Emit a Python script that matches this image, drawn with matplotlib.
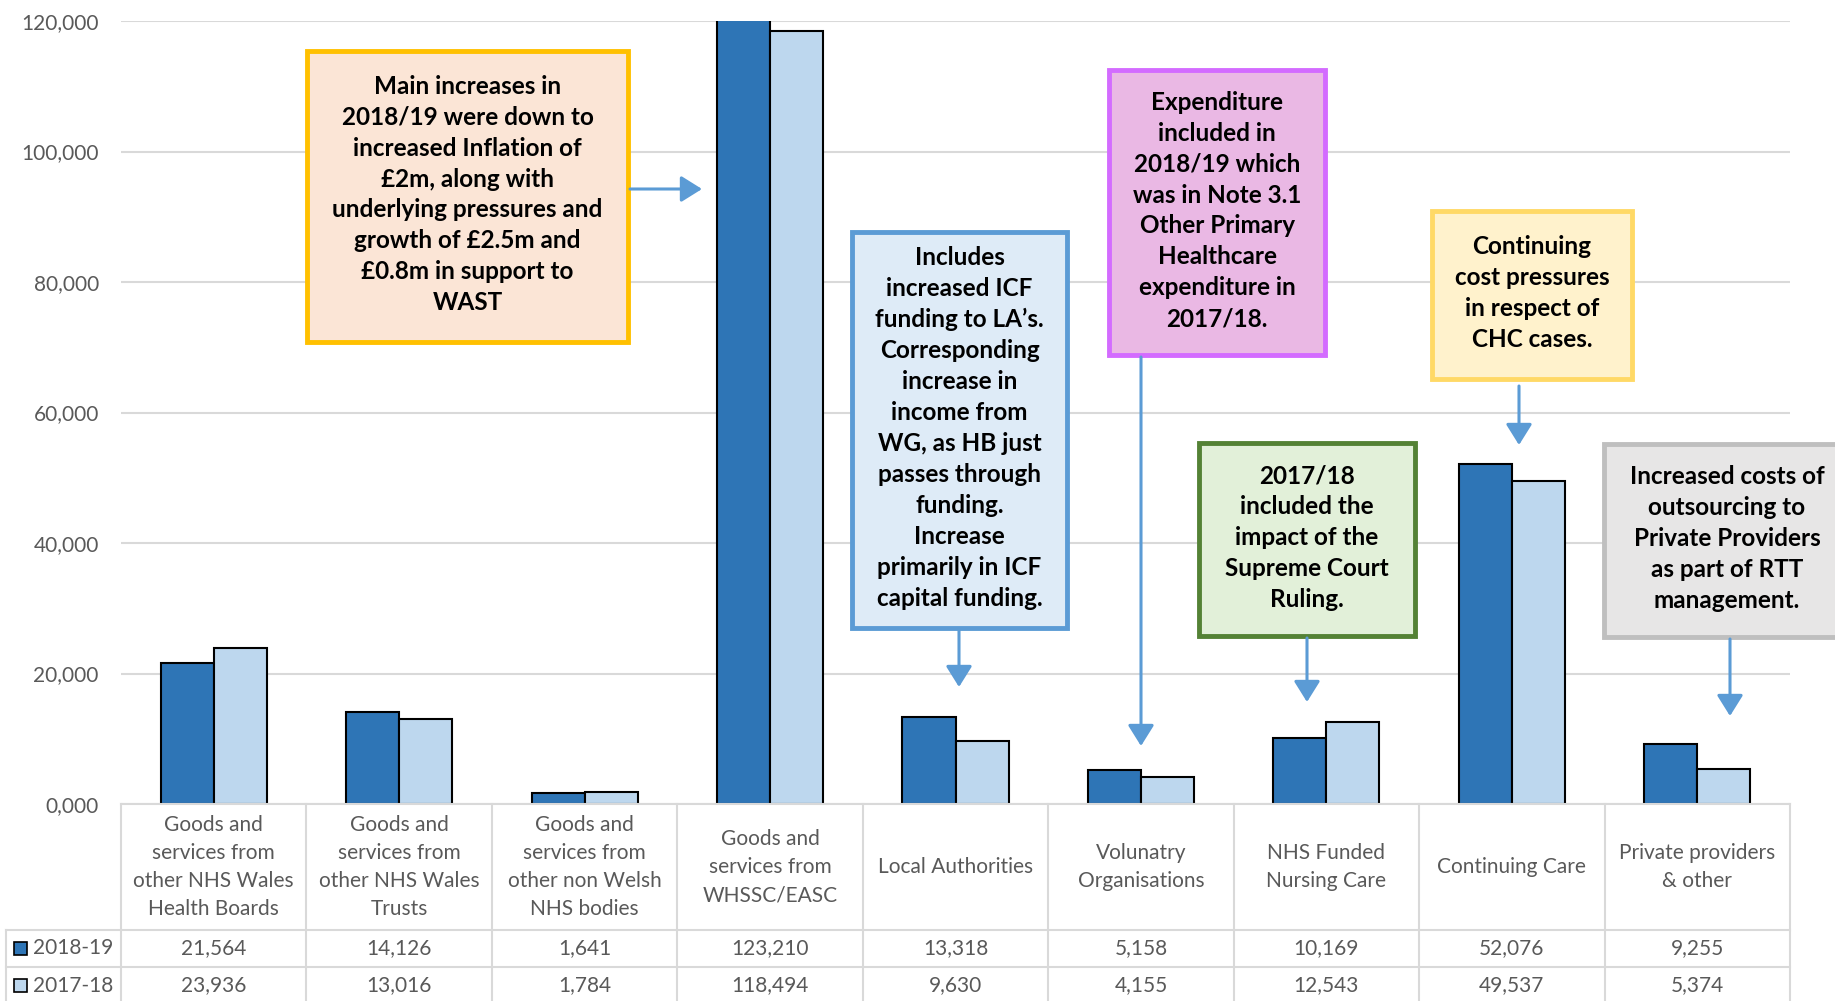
import matplotlib
matplotlib.use("Agg")
import matplotlib.pyplot as plt
from matplotlib.patches import Rectangle, FancyArrowPatch
from matplotlib.transforms import blended_transform_factory
import numpy as np

plt.rcParams["font.family"] = ["Lato", "DejaVu Sans"]

categories = [
    "Goods and\nservices from\nother NHS Wales\nHealth Boards",
    "Goods and\nservices from\nother NHS Wales\nTrusts",
    "Goods and\nservices from\nother non Welsh\nNHS bodies",
    "Goods and\nservices from\nWHSSC/EASC",
    "Local Authorities",
    "Volunatry\nOrganisations",
    "NHS Funded\nNursing Care",
    "Continuing Care",
    "Private providers\n& other",
]
series_names = ["2018-19", "2017-18"]
values_2018_19 = [21564, 14126, 1641, 123210, 13318, 5158, 10169, 52076, 9255]
values_2017_18 = [23936, 13016, 1784, 118494, 9630, 4155, 12543, 49537, 5374]
y_ticks = [0, 20000, 40000, 60000, 80000, 100000, 120000]

DARK = "#2E75B6"
LIGHT = "#BDD7EE"
GRID = "#D9D9D9"
TEXT = "#595959"
ARROW = "#5B9BD5"

W, H = 1835, 1001
fig = plt.figure(figsize=(W / 100, H / 100), dpi=100)


def fx(x):
    return x / W


def fy(y):
    return 1 - y / H


# plot area: left 121px, right 1790px, zero line 804px, top 21px
ax = fig.add_axes([fx(121), fy(804), fx(1790 - 121), (804 - 21) / H])
x = np.arange(len(categories))
bw = 0.286
ax.bar(x - bw / 2, values_2018_19, bw, color=DARK, edgecolor="black", linewidth=1.5, zorder=3)
ax.bar(x + bw / 2, values_2017_18, bw, color=LIGHT, edgecolor="black", linewidth=1.5, zorder=3)
ax.set_xlim(-0.5, len(categories) - 0.5)
ax.set_ylim(0, 120000)
ax.set_yticks(y_ticks)
ax.set_yticklabels([format(v, "05,") for v in y_ticks], color=TEXT, fontsize=15)
ax.tick_params(axis="y", length=0, pad=16)
ax.set_xticks([])
ax.grid(axis="y", color=GRID, linewidth=1.5, zorder=0)
for s in ax.spines.values():
    s.set_visible(False)

# data table underneath the bars
tr = blended_transform_factory(ax.transData, fig.transFigure)
top, hdr, r1, r2, bot = fy(804), fy(930), fy(967), fy(1004), fy(1010)
lkw = dict(color=GRID, linewidth=1.5, clip_on=False)
fig.add_artist(plt.Line2D([fx(121), fx(1790)], [top, top], **lkw))
fig.add_artist(plt.Line2D([fx(6), fx(1790)], [hdr, hdr], **lkw))
fig.add_artist(plt.Line2D([fx(6), fx(1790)], [r1, r1], **lkw))
fig.add_artist(plt.Line2D([fx(6), fx(6)], [hdr, bot], **lkw))
for b in np.arange(-0.5, len(categories)):
    fig.add_artist(plt.Line2D([b, b], [top, bot], transform=tr, **lkw))

for i, cat in enumerate(categories):
    fig.text(i, (top + hdr) / 2, cat, transform=tr, ha="center", va="center",
             fontsize=15, color=TEXT, linespacing=1.5)
    fig.text(i, (hdr + r1) / 2, f"{values_2018_19[i]:,}", transform=tr,
             ha="center", va="center", fontsize=15, color=TEXT)
    fig.text(i, (r1 + r2) / 2, f"{values_2017_18[i]:,}", transform=tr,
             ha="center", va="center", fontsize=15, color=TEXT)

for (name, col, yc) in zip(series_names, [DARK, LIGHT], [(hdr + r1) / 2, (r1 + r2) / 2]):
    fig.add_artist(Rectangle((fx(14), yc - 6.5 / H), 13 / W, 13 / H, facecolor=col,
                             edgecolor="black", linewidth=1.2, transform=fig.transFigure))
    fig.text(fx(33), yc, name, ha="left", va="center", fontsize=15, color=TEXT)

# callout boxes: (x0, y0, x1, y1) in px, fill, edge, text
callouts = [
    ((307, 51, 628, 342), "#FBE5D6", "#FFC000",
     "Main increases in\n2018/19 were down to\nincreased Inflation of\n£2m, along with\n"
     "underlying pressures and\ngrowth of £2.5m and\n£0.8m in support to\nWAST"),
    ((852, 232, 1067, 628), "#DEEBF7", "#5B9BD5",
     "Includes\nincreased ICF\nfunding to LA’s.\nCorresponding\nincrease in\nincome from\n"
     "WG, as HB just\npasses through\nfunding.\nIncrease\nprimarily in ICF\ncapital funding."),
    ((1109, 70, 1325, 355), "#EAB8E4", "#D36BFF",
     "Expenditure\nincluded in\n2018/19 which\nwas in Note 3.1\nOther Primary\nHealthcare\n"
     "expenditure in\n2017/18."),
    ((1199, 443, 1415, 636), "#E2F0D9", "#548235",
     "2017/18\nincluded the\nimpact of the\nSupreme Court\nRuling."),
    ((1432, 211, 1632, 379), "#FFF2CC", "#FFD966",
     "Continuing\ncost pressures\nin respect of\nCHC cases."),
    ((1604, 444, 1850, 637), "#E7E6E6", "#BFBFBF",
     "Increased costs of\noutsourcing to\nPrivate Providers\nas part of RTT\nmanagement."),
]
for (x0, y0, x1, y1), fc, ec, txt in callouts:
    fig.add_artist(Rectangle((fx(x0), fy(y1)), (x1 - x0) / W, (y1 - y0) / H,
                             facecolor=fc, edgecolor=ec, linewidth=3.5,
                             transform=fig.transFigure, zorder=5))
    cx = min((x0 + x1) / 2, 1728)
    fig.text(fx(cx), fy((y0 + y1) / 2 - 2), txt, ha="center", va="center", fontsize=17.5,
             fontweight="bold", color="black", linespacing=1.42, zorder=6)

# arrows: (start, end) in px
arrows = [
    ((630, 189), (702, 189)),
    ((959, 630), (959, 687)),
    ((1141, 357), (1141, 746)),
    ((1307, 638), (1307, 702)),
    ((1519, 386), (1519, 445)),
    ((1730, 639), (1730, 716)),
]
for (xa, ya), (xb, yb) in arrows:
    fig.add_artist(FancyArrowPatch((fx(xa), fy(ya)), (fx(xb), fy(yb)),
                                   transform=fig.transFigure, arrowstyle="-|>,head_length=8,head_width=5",
                                   mutation_scale=1.6, color=ARROW, linewidth=2.2,
                                   shrinkA=0, shrinkB=0, zorder=6))

fig.savefig("out.png", dpi=100)
